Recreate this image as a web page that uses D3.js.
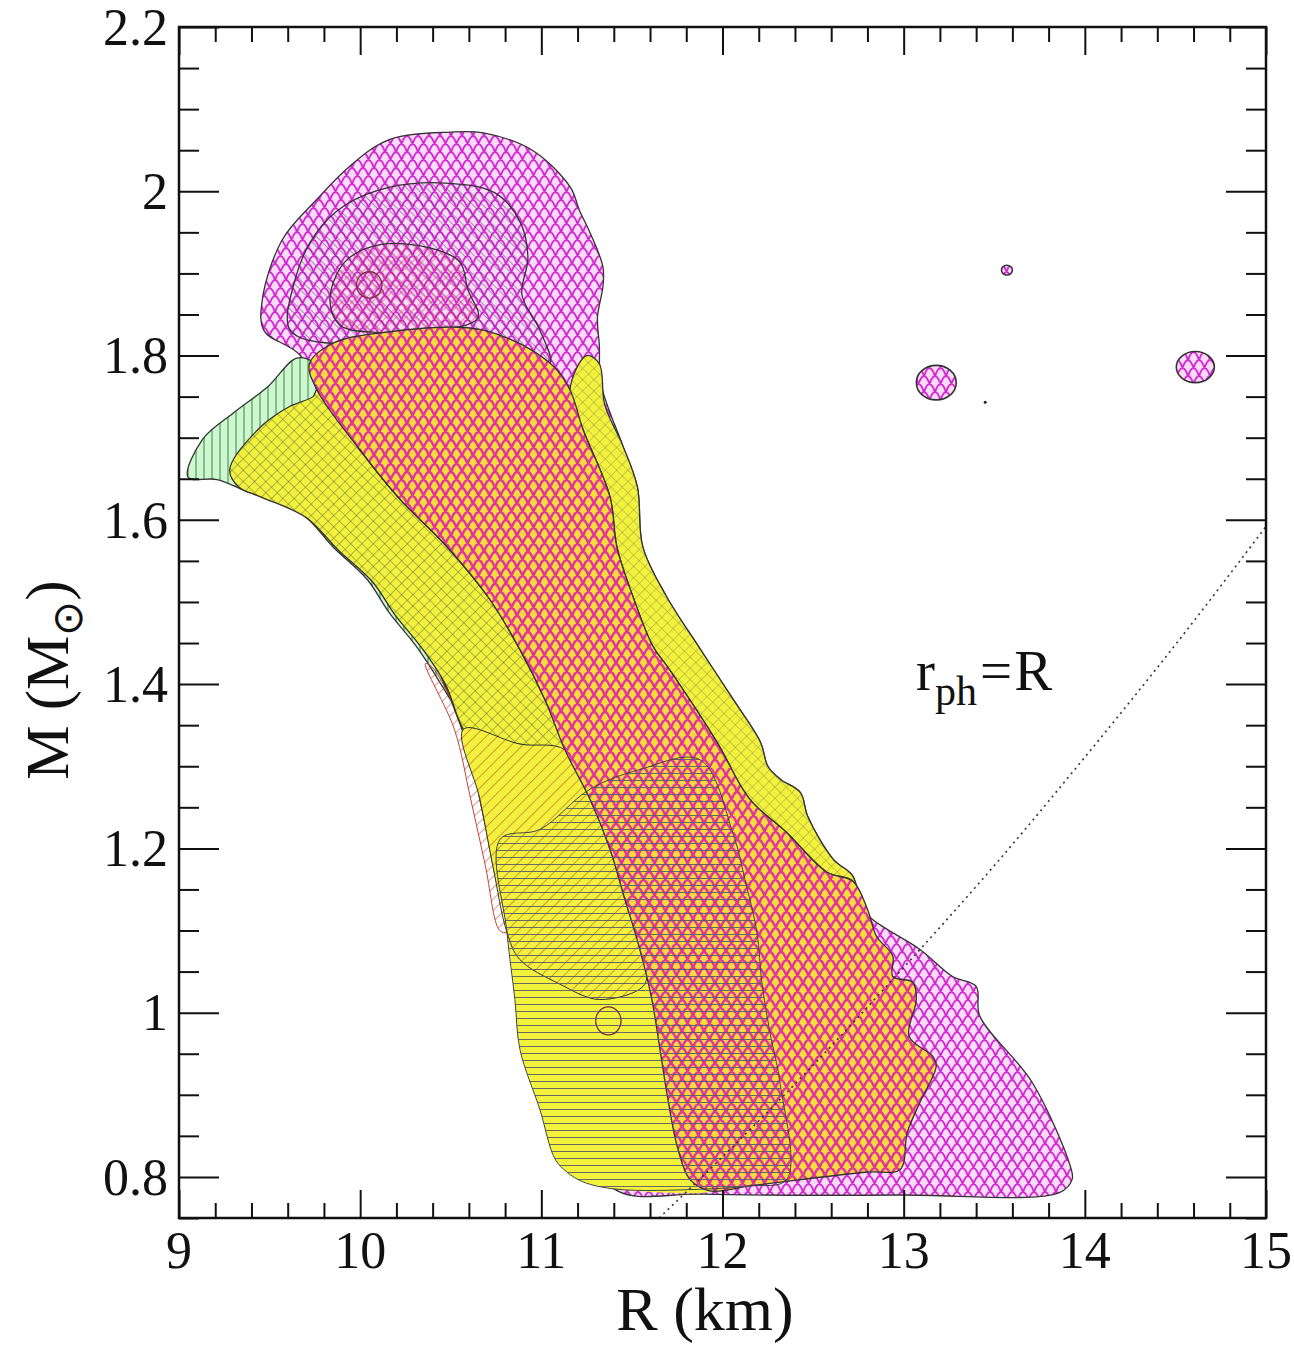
<!doctype html>
<html lang="en">
<head>
  <title>M-R constraints</title>
  <script src="https://d3js.org/d3.v7.min.js"></script>
  <style>
    body { margin: 0px; background: #fff; }
    text { font-family: "Liberation Serif", "Times New Roman", serif; fill: #111; }
  </style>
</head>
<body>
<div id="chart"></div>
<script>
// ticks
var xTicks = [9, 10, 11, 12, 13, 14, 15];
var yTicks = [0.8, 1, 1.2, 1.4, 1.6, 1.8, 2, 2.2];
var yLabels = ["0.8", "1", "1.2", "1.4", "1.6", "1.8", "2", "2.2"];

// contours, each point is [R (km), M (Msun)]
var magentaOuter = [[9.46,1.868],[9.57,1.941],[9.76,1.99],[9.94,2.03],[10.16,2.063],[10.50,2.072],[10.68,2.071],[10.95,2.05],[11.16,2.005],[11.21,1.977],[11.27,1.949],[11.34,1.908],[11.34,1.884],[11.31,1.847],[11.32,1.813],[11.33,1.765],[11.45,1.69],[11.53,1.64],[11.56,1.567],[11.69,1.507],[11.87,1.445],[12.06,1.381],[12.21,1.329],[12.25,1.30],[12.32,1.284],[12.43,1.268],[12.47,1.239],[12.61,1.187],[12.72,1.166],[12.76,1.13],[12.83,1.113],[13.09,1.077],[13.27,1.044],[13.40,1.032],[13.42,0.996],[13.71,0.915],[13.92,0.813],[13.93,0.797],[13.86,0.781],[12.98,0.778],[11.88,0.779],[11.42,0.783],[11.2,0.85],[11.0,1.1],[10.7,1.35],[10.3,1.55],[9.9,1.7],[9.67,1.80],[9.47,1.83]];

var innerBlob = [[9.613,1.831],[9.64,1.892],[9.75,1.947],[9.916,1.983],[10.164,2.005],[10.468,2.010],[10.744,1.998],[10.882,1.963],[10.926,1.919],[10.893,1.874],[10.992,1.831],[11.047,1.791],[10.678,1.831],[10.126,1.828],[9.85,1.815]];

var innerCore = [[9.833,1.868],[9.916,1.914],[10.109,1.935],[10.385,1.931],[10.55,1.914],[10.595,1.88],[10.65,1.846],[10.44,1.831],[10.11,1.828],[9.889,1.837]];

var greenTip = [[9.05,1.652],[9.13,1.698],[9.30,1.73],[9.49,1.762],[9.65,1.797],[9.75,1.79],[9.80,1.74],[9.90,1.64],[10.3,1.48],[10.6,1.32],[10.70,1.22],[10.66,1.26],[10.59,1.341],[10.44,1.402],[10.31,1.446],[10.16,1.487],[10.04,1.527],[9.85,1.567],[9.67,1.609],[9.39,1.633],[9.21,1.649]];

var redStrip = [[10.40,1.42],[10.57,1.345],[10.661,1.26],[10.733,1.178],[10.81,1.098],[10.77,1.10],[10.69,1.18],[10.61,1.26],[10.52,1.345],[10.36,1.425]];

var rightBand = [[11.158,1.758],[11.25,1.80],[11.32,1.79],[11.35,1.74],[11.45,1.69],[11.53,1.64],[11.56,1.567],[11.69,1.507],[11.87,1.445],[12.06,1.381],[12.21,1.329],[12.25,1.30],[12.32,1.284],[12.43,1.268],[12.47,1.239],[12.61,1.187],[12.72,1.166],[12.76,1.13],[12.72,1.16],[12.576,1.171],[12.355,1.219],[12.15,1.26],[11.97,1.329],[11.70,1.42],[11.616,1.446],[11.505,1.507],[11.417,1.567],[11.379,1.628],[11.23,1.71]];

var yellowUpper = [[9.28,1.661],[9.45,1.713],[9.61,1.738],[9.74,1.75],[9.762,1.758],[9.999,1.685],[10.22,1.625],[10.468,1.57],[10.716,1.503],[10.882,1.442],[11.02,1.381],[11.13,1.32],[10.88,1.327],[10.634,1.333],[10.57,1.345],[10.47,1.40],[10.34,1.444],[10.19,1.485],[10.07,1.524],[9.88,1.563],[9.70,1.603],[9.45,1.628],[9.33,1.640]];

var yellowLower = [[10.57,1.345],[10.88,1.327],[11.13,1.32],[11.268,1.26],[11.379,1.199],[11.461,1.138],[11.544,1.077],[11.61,1.016],[11.655,0.955],[11.699,0.894],[11.754,0.834],[11.82,0.797],[11.93,0.783],[11.42,0.785],[11.23,0.794],[11.141,0.806],[11.075,0.822],[10.992,0.882],[10.882,0.955],[10.854,1.016],[10.81,1.098],[10.733,1.178],[10.661,1.26]];

var diagRegion = [[10.57,1.345],[10.882,1.327],[11.13,1.32],[11.268,1.26],[11.379,1.199],[11.461,1.138],[11.544,1.077],[11.572,1.035],[11.323,1.016],[11.10,1.035],[10.88,1.065],[10.81,1.098],[10.733,1.178],[10.661,1.26]];

var orangeCore = [[9.72,1.79],[9.85,1.815],[10.126,1.828],[10.678,1.831],[11.047,1.791],[11.158,1.758],[11.23,1.71],[11.379,1.628],[11.417,1.567],[11.505,1.507],[11.616,1.446],[11.70,1.42],[11.97,1.329],[12.15,1.26],[12.355,1.219],[12.576,1.171],[12.72,1.16],[12.80,1.126],[12.85,1.093],[12.94,1.069],[12.94,1.044],[13.05,1.037],[13.07,1.016],[13.03,0.971],[13.16,0.947],[13.18,0.935],[13.09,0.891],[13.02,0.854],[12.98,0.809],[12.80,0.806],[12.33,0.794],[12.15,0.789],[11.93,0.783],[11.82,0.797],[11.754,0.834],[11.699,0.894],[11.655,0.955],[11.61,1.016],[11.544,1.077],[11.461,1.138],[11.379,1.199],[11.268,1.26],[11.13,1.32],[11.02,1.381],[10.882,1.442],[10.716,1.503],[10.468,1.57],[10.22,1.625],[9.999,1.685],[9.762,1.758]];

var horizRegion = [[10.772,1.211],[10.992,1.223],[11.268,1.272],[11.544,1.296],[11.875,1.308],[12.057,1.219],[12.124,1.162],[12.19,1.098],[12.217,1.037],[12.262,0.976],[12.317,0.915],[12.355,0.797],[12.151,0.789],[11.875,0.785],[11.417,0.785],[11.23,0.794],[11.141,0.806],[11.075,0.822],[10.992,0.882],[10.882,0.955],[10.854,1.016],[10.81,1.098]];

// small islands: [R, M, half-width km, half-height Msun]
var islands = [[13.18,1.767,0.11,0.021],[14.61,1.786,0.105,0.019],[13.57,1.904,0.03,0.006]];
var smallLoops = [[10.05,1.886,0.07,0.016],[11.37,0.99,0.07,0.017]];
var strayDot = [[13.45,1.743]];

// r_ph = R curve
var rphR = [11.65, 12, 12.5, 13, 13.5, 14, 14.5, 15];
var rphM = [0.75, 0.8245, 0.936, 1.055, 1.179, 1.311, 1.448, 1.592];

var W = 1294, H = 1347;
var plotL = 179, plotR = 1266, plotT = 27, plotB = 1218;

var x = d3.scaleLinear().domain([9, 15]).range([plotL, plotR]);
var y = d3.scaleLinear().domain([0.75, 2.2]).range([plotB, plotT]);

var svg = d3.select("#chart").append("svg")
    .attr("width", W).attr("height", H);

var defs = svg.append("defs");
defs.append("clipPath").attr("id", "plotclip")
  .append("rect").attr("x", plotL).attr("y", plotT)
  .attr("width", plotR - plotL).attr("height", plotB - plotT);

function pattern(id, w, h, d, color, sw, transform) {
  var p = defs.append("pattern").attr("id", id)
    .attr("patternUnits", "userSpaceOnUse")
    .attr("width", w).attr("height", h);
  if (transform) p.attr("patternTransform", transform);
  p.append("path").attr("d", d).attr("fill", "none")
    .attr("stroke", color).attr("stroke-width", sw);
}

// fish-scale lattice, 11 wide, rows every 8
var scaleD = "M0,8 Q5.5,-8 11,8 M-5.5,16 Q0,0 5.5,16 M5.5,16 Q11,0 16.5,16";
pattern("scale", 11, 16, scaleD, "#d42ad4", 1.9);
pattern("scaleDense", 11, 16, scaleD, "#e2349c", 2.5);
pattern("cross", 8, 8, "M0,0 V8 M0,0 H8", "#4a5548", 0.8, "rotate(45)");
pattern("crossLight", 8, 8, "M0,0 V8 M0,0 H8", "#7a7a50", 0.7, "rotate(45)");
pattern("diagRed", 8, 8, "M0,0 V8", "#c0453a", 1.1, "rotate(45)");
pattern("diagDark", 7, 7, "M0,0 V7", "#4a4a55", 1.0, "rotate(-45)");
pattern("redCross", 7, 7, "M0,0 V7 M0,0 H7", "#e0306a", 1.0, "rotate(45)");
pattern("vert", 8, 8, "M4,0 V8", "#2e9e44", 1.1);
pattern("horiz", 10, 7, "M0,3.5 H10", "#5a5a66", 0.9);

var plot = svg.append("g").attr("clip-path", "url(#plotclip)");

var shape = d3.line()
  .x(function(d) { return x(d[0]); })
  .y(function(d) { return y(d[1]); })
  .curve(d3.curveCatmullRomClosed.alpha(0.5));

function region(pts, bg, pat, stroke, sw) {
  if (bg) plot.append("path").attr("d", shape(pts)).attr("fill", bg);
  if (pat) plot.append("path").attr("d", shape(pts)).attr("fill", "url(#" + pat + ")");
  if (stroke) plot.append("path").attr("d", shape(pts)).attr("fill", "none")
    .attr("stroke", stroke).attr("stroke-width", sw || 1.3);
}

var pink = "#fadcfa", yellow = "#f2f23c", green = "#d2f5d2", edge = "#333";

region(magentaOuter, pink, "scale", edge);
region(innerBlob, null, "diagDark", edge);
region(innerCore, null, "redCross", edge);
region(greenTip, green, "vert", edge);
region(redStrip, null, "diagRed", "#c0453a", 1);
region(rightBand, yellow, "crossLight", edge);
region(yellowUpper, yellow, "cross", edge);
region(yellowLower, yellow, null, null);
region(diagRegion, null, "diagRed", edge, 1);
region(orangeCore, "#f5dc3a", "scaleDense", edge);
region(horizRegion, null, "horiz", "#444", 1);

function ell(sel) {
  return sel
    .attr("cx", function(d) { return x(d[0]); })
    .attr("cy", function(d) { return y(d[1]); })
    .attr("rx", function(d) { return x(d[0] + d[2]) - x(d[0]); })
    .attr("ry", function(d) { return y(d[1] - d[3]) - y(d[1]); });
}

// islands
plot.selectAll("ellipse.ibg").data(islands).enter().append("ellipse")
  .attr("class", "ibg").call(ell).attr("fill", pink);
plot.selectAll("ellipse.island").data(islands).enter().append("ellipse")
  .attr("class", "island").call(ell)
  .attr("fill", "url(#scale)").attr("stroke", edge).attr("stroke-width", 1.6);

plot.selectAll("ellipse.loop").data(smallLoops).enter().append("ellipse")
  .attr("class", "loop").call(ell)
  .attr("fill", "none").attr("stroke", "#7a3040").attr("stroke-width", 1.3);

plot.selectAll("circle.dot").data(strayDot).enter().append("circle")
  .attr("cx", function(d) { return x(d[0]); })
  .attr("cy", function(d) { return y(d[1]); })
  .attr("r", 1.5).attr("fill", "#222");

// r_ph = R dotted line
plot.append("path")
  .attr("d", d3.line()
    .x(function(d, i) { return x(rphR[i]); })
    .y(function(d) { return y(d); })
    .curve(d3.curveMonotoneX)(rphM))
  .attr("fill", "none").attr("stroke", "#333")
  .attr("stroke-width", 1.6).attr("stroke-dasharray", "2,4");

// frame + ticks on all four sides, pointing inward
var xMinor = d3.range(9, 15.001, 0.2).filter(function(v) { return Math.abs(v - Math.round(v)) > 1e-6; });
var yMinor = d3.range(0.75, 2.2001, 0.05).filter(function(v) { return Math.abs(v * 5 - Math.round(v * 5)) > 1e-6; });

function tickSet(axis, vals, size, tr) {
  svg.append("g").attr("transform", tr)
    .call(axis.tickValues(vals).tickSize(-size).tickFormat(""))
    .call(function(g) { g.select(".domain").remove(); })
    .call(function(g) { g.selectAll("line").attr("stroke", "#111").attr("stroke-width", 2); });
}
tickSet(d3.axisBottom(x), xTicks, 28, "translate(0," + plotB + ")");
tickSet(d3.axisBottom(x), xMinor, 15, "translate(0," + plotB + ")");
tickSet(d3.axisTop(x), xTicks, 28, "translate(0," + plotT + ")");
tickSet(d3.axisTop(x), xMinor, 15, "translate(0," + plotT + ")");
tickSet(d3.axisLeft(y), yTicks, 40, "translate(" + plotL + ",0)");
tickSet(d3.axisLeft(y), yMinor, 20, "translate(" + plotL + ",0)");
tickSet(d3.axisRight(y), yTicks, 40, "translate(" + plotR + ",0)");
tickSet(d3.axisRight(y), yMinor, 20, "translate(" + plotR + ",0)");

svg.append("rect").attr("x", plotL).attr("y", plotT)
  .attr("width", plotR - plotL).attr("height", plotB - plotT)
  .attr("fill", "none").attr("stroke", "#111").attr("stroke-width", 2.5);

// tick labels
svg.selectAll("text.xl").data(xTicks).enter().append("text")
  .attr("class", "xl")
  .attr("x", function(d) { return x(d); }).attr("y", 1268)
  .attr("text-anchor", "middle").style("font-size", "52px")
  .text(function(d) { return d; });
svg.selectAll("text.yl").data(yTicks).enter().append("text")
  .attr("class", "yl")
  .attr("x", 168).attr("y", function(d) { return y(d); })
  .attr("dy", "0.34em")
  .attr("text-anchor", "end").style("font-size", "52px")
  .text(function(d, i) { return yLabels[i]; });

// axis titles
svg.append("text").attr("x", 705).attr("y", 1330)
  .attr("text-anchor", "middle").style("font-size", "62px")
  .text("R (km)");

var yt = svg.append("text")
  .attr("transform", "translate(68,680) rotate(-90)")
  .attr("text-anchor", "middle").style("font-size", "61px");
yt.append("tspan").text("M (M");
yt.append("tspan").attr("dy", 14).style("font-size", "42px").text("\u2299");
yt.append("tspan").attr("dy", -14).text(")");

// r_ph = R label
var lab = svg.append("text").attr("x", 916).attr("y", 690).style("font-size", "57px");
lab.append("tspan").text("r");
lab.append("tspan").attr("dy", 15).style("font-size", "42px").text("ph");
lab.append("tspan").attr("dy", -15).attr("dx", 3).text("=");
lab.append("tspan").attr("dx", 2).text("R");
</script>
</body>
</html>
